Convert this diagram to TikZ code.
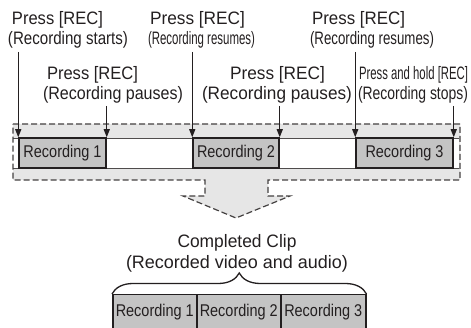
\documentclass[tikz,border=0pt]{standalone}
\usepackage{fontspec}
\setmainfont{Liberation Sans}
\usetikzlibrary{arrows.meta,decorations.pathreplacing}
\newcommand\fitw[2]{\resizebox{#1}{\height}{#2}}
\definecolor{shade}{HTML}{E6E6E6}
\definecolor{recfill}{HTML}{C4C4C4}
\definecolor{ink}{HTML}{231F20}
\tikzset{
  lbl/.style={inner sep=0pt, anchor=base, text=ink, font=\fontsize{18}{21}\selectfont},
  recbox/.style={draw=ink, fill=recfill, line width=1.5pt, inner sep=0pt, text=ink,
                 font=\fontsize{17}{20}\selectfont},
  pointer/.style={draw=ink, line width=1.3pt, -{Triangle[width=6pt,length=8pt]}},
  outline/.style={draw=ink!85, dash pattern=on 6pt off 3pt, line width=1.2pt},
}
\begin{document}
\begin{tikzpicture}[x=1pt,y=-1pt]
\useasboundingbox (0,0) rectangle (471,328);
% shaded timeline area with arrow
\path[fill=shade] (13,124) -- (460,124) -- (460,180) -- (268,180) -- (268,196) -- (290,196)
  -- (236,218) -- (183,196) -- (205,196) -- (205,180) -- (13,180) -- cycle;
\path[fill=white] (13,138) rectangle (459,168);
\draw[ink!80, line width=0.8pt] (13,138) -- (459,138) (13,168) -- (459,168);
\draw[outline] (13,124) -- (460,124) -- (460,180) -- (268,180) -- (268,196) -- (290,196)
  -- (236,218) -- (183,196) -- (205,196) -- (205,180) -- (13,180) -- cycle;
% recording segments
\node[recbox, minimum width=87pt, minimum height=30pt] (r1) at (62.5,153) {\fitw{78pt}{Recording 1}};
\node[recbox, minimum width=86pt, minimum height=30pt] (r2) at (236,153) {\fitw{78pt}{Recording 2}};
\node[recbox, minimum width=97pt, minimum height=30pt] (r3) at (404.5,153) {\fitw{78pt}{Recording 3}};
% labels
\node[lbl] (p1) at (57.5,25) {\fitw{91pt}{Press [REC]}};
\node[lbl] (s1) at (68,45) {\fitw{120pt}{(Recording starts)}};
\node[lbl] (p3) at (197.5,25) {\fitw{95pt}{Press [REC]}};
\node[lbl] (s3) at (201.5,45) {\fitw{107pt}{(Recording resumes)}};
\node[lbl] (p5) at (358.5,25) {\fitw{93pt}{Press [REC]}};
\node[lbl] (s5) at (372,45) {\fitw{124pt}{(Recording resumes)}};
\node[lbl] (p2) at (92.5,80) {\fitw{91pt}{Press [REC]}};
\node[lbl] (s2) at (113,100) {\fitw{140pt}{(Recording pauses)}};
\node[lbl] (p4) at (277.5,80) {\fitw{95pt}{Press [REC]}};
\node[lbl] (s4) at (277,100) {\fitw{150pt}{(Recording pauses)}};
\node[lbl] (p6) at (413.5,80) {\fitw{109pt}{Press and hold [REC]}};
\node[lbl] (s6) at (413,100) {\fitw{110pt}{(Recording stops)}};
% pointer start coordinates
\coordinate (a1) at (r1.north west |- 0,52);
\coordinate (a2) at (r1.north east |- 0,106);
\coordinate (a3) at (r2.north west |- 0,52);
\coordinate (a4) at (r2.north east |- 0,106);
\coordinate (a5) at (r3.north west |- 0,52);
\coordinate (a6) at (r3.north east |- 0,106);
\draw[pointer] (a1) -- (r1.north west);
\draw[pointer] (a2) -- (r1.north east);
\draw[pointer] (a3) -- (r2.north west);
\draw[pointer] (a4) -- (r2.north east);
\draw[pointer] (a5) -- (r3.north west);
\draw[pointer] (a6) -- (r3.north east);
% completed clip
\node[lbl] (c1) at (237,248) {\fitw{119pt}{Completed Clip}};
\node[lbl] (c2) at (237,269) {\fitw{222pt}{(Recorded video and audio)}};
\node[recbox, minimum width=84pt, minimum height=40pt, anchor=north west] (b1) at (112,294) {};
\node[recbox, minimum width=84pt, minimum height=40pt, anchor=north west] (b2) at (196,294) {};
\node[recbox, minimum width=85pt, minimum height=40pt, anchor=north west] (b3) at (280,294) {};
\node[lbl, font=\fontsize{17}{20}\selectfont] (t1) at (b1.north |- 0,317) {\fitw{78pt}{Recording 1}};
\node[lbl, font=\fontsize{17}{20}\selectfont] (t2) at (b2.north |- 0,317) {\fitw{78pt}{Recording 2}};
\node[lbl, font=\fontsize{17}{20}\selectfont] (t3) at (b3.north |- 0,317) {\fitw{78pt}{Recording 3}};
\draw[ink, line width=1.3pt, decorate, decoration={brace, amplitude=21pt}] (b1.north west) -- (b3.north east);
\end{tikzpicture}
\end{document}
